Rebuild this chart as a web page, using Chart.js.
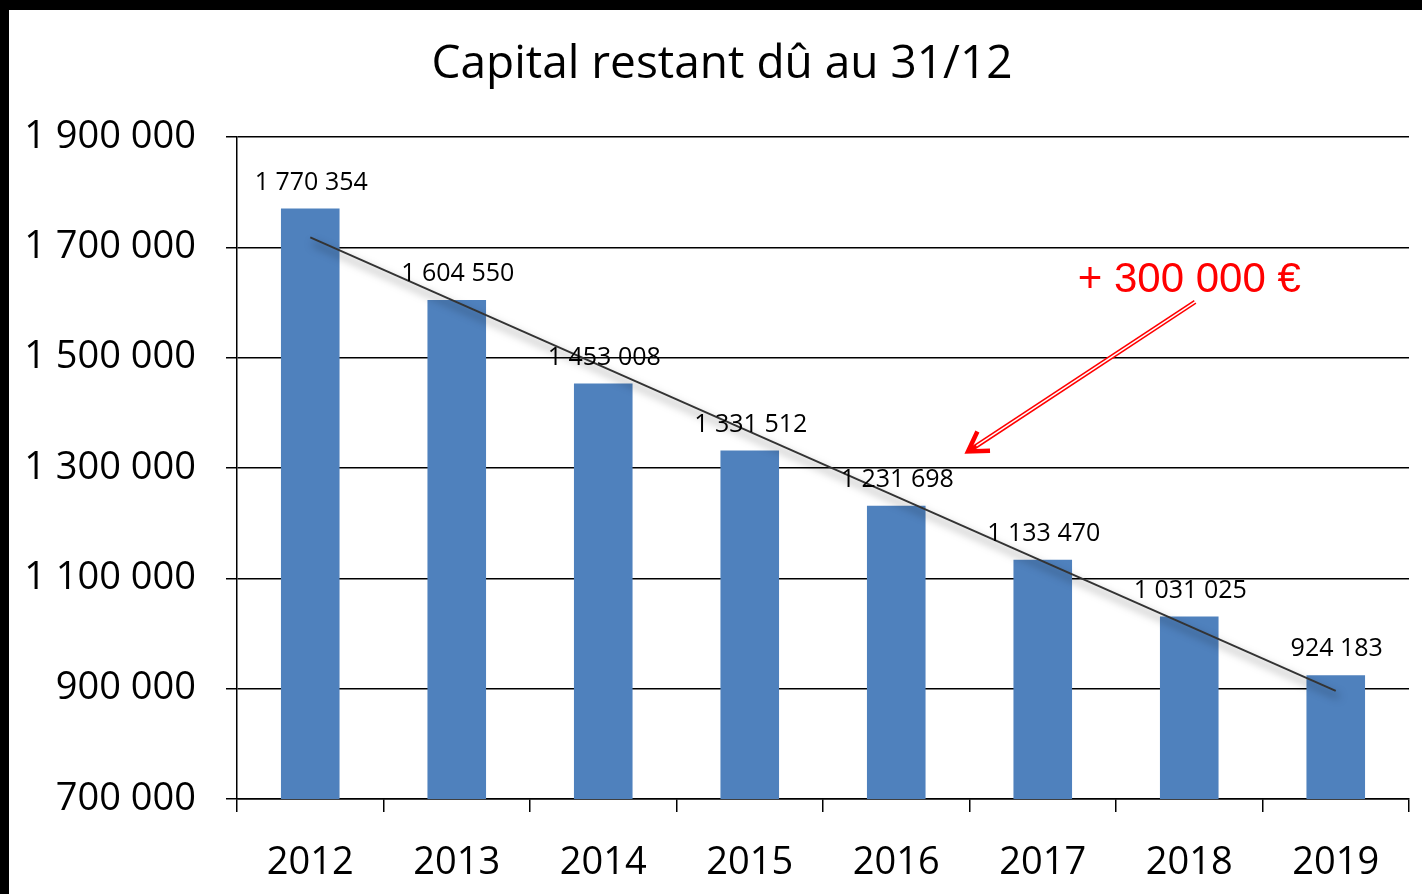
<!DOCTYPE html>
<html lang="fr">
<head>
<meta charset="utf-8">
<title>Capital restant dû au 31/12</title>
<script src="https://cdn.jsdelivr.net/npm/chart.js@4.4.1/dist/chart.umd.min.js"></script>
<style>
  html, body { margin: 0; padding: 0; background: #000; }
  #frame {
    position: absolute;
    left: 9px;
    top: 10px;
    width: 1413px;
    height: 884px;
    background: #fff;
  }
  canvas { display: block; }
</style>
</head>
<body>
<div id="frame">
  <canvas id="chart" width="1413" height="884"></canvas>
</div>
<script>
// Data
const years = ['2012', '2013', '2014', '2015', '2016', '2017', '2018', '2019'];
const capital = [1770354, 1604550, 1453008, 1331512, 1231698, 1133470, 1031025, 924183];
// Linear trend line, end points
const trend = [1718000, null, null, null, null, null, null, 896000];
const yTicks = [700000, 900000, 1100000, 1300000, 1500000, 1700000, 1900000];

const chartTitle = 'Capital restant dû au 31/12';

// Red annotation: text and arrow, in data units (category index, value)
const noteText = '+ 300 000 €';
const notePos = [6.0, 1640000];
const arrowFrom = [6.04, 1601000];
const arrowTo = [4.49, 1330000];

const BAR_COLOR = '#4F81BD';
const FONT = "'Open Sans', 'DejaVu Sans', sans-serif";

// French style thousands: "1 770 354"
function fmt(v) {
  return String(Math.round(v)).replace(/\B(?=(\d{3})+(?!\d))/g, ' ');
}

// Title, drawn by hand so it sits where the original one does
const titlePlugin = {
  id: 'titlePlugin',
  afterDraw(chart) {
    const ctx = chart.ctx;
    ctx.save();
    ctx.font = '46px ' + FONT;
    ctx.fillStyle = '#000';
    ctx.textAlign = 'center';
    ctx.textBaseline = 'middle';
    ctx.fillText(chartTitle, 713, 55);
    ctx.restore();
  }
};

// Soft shadow under the trend line
const trendShadow = {
  id: 'trendShadow',
  beforeDatasetDraw(chart, args) {
    if (args.index !== 1) return;
    const ctx = chart.ctx;
    ctx.save();
    ctx.shadowColor = 'rgba(0, 0, 0, 0.6)';
    ctx.shadowBlur = 9;
    ctx.shadowOffsetX = 3;
    ctx.shadowOffsetY = 6;
  },
  afterDatasetDraw(chart, args) {
    if (args.index !== 1) return;
    chart.ctx.restore();
  }
};

// Value labels above each bar
const barLabels = {
  id: 'barLabels',
  afterDatasetsDraw(chart) {
    const ctx = chart.ctx;
    const meta = chart.getDatasetMeta(0);
    ctx.save();
    ctx.font = '25px ' + FONT;
    ctx.fillStyle = '#000';
    ctx.textAlign = 'center';
    ctx.textBaseline = 'middle';
    meta.data.forEach((bar, i) => {
      ctx.fillText(fmt(capital[i]), bar.x + 1, bar.y - 26);
    });
    ctx.restore();
  }
};

// Red "+ 300 000 €" note with a hollow arrow
const note = {
  id: 'note',
  afterDraw(chart) {
    const ctx = chart.ctx;
    const xs = chart.scales.x;
    const ys = chart.scales.y;
    const px = p => [xs.getPixelForValue(p[0]), ys.getPixelForValue(p[1])];

    const [tx, ty] = px(notePos);
    const [x1, y1] = px(arrowFrom);
    const [x2, y2] = px(arrowTo);

    ctx.save();
    ctx.font = "42px 'Liberation Sans', Arial, sans-serif";
    ctx.fillStyle = '#FF0000';
    ctx.textAlign = 'center';
    ctx.textBaseline = 'middle';
    ctx.fillText(noteText, tx, ty);

    const ang = Math.atan2(y1 - y2, x1 - x2);
    // shaft: red outline with white core
    ctx.lineCap = 'butt';
    ctx.strokeStyle = '#FF0000';
    ctx.lineWidth = 4.5;
    ctx.beginPath();
    ctx.moveTo(x1, y1);
    ctx.lineTo(x2 + Math.cos(ang) * 4, y2 + Math.sin(ang) * 4);
    ctx.stroke();
    ctx.strokeStyle = '#fff';
    ctx.lineWidth = 1.5;
    ctx.beginPath();
    ctx.moveTo(x1 + Math.cos(ang) * 1, y1 + Math.sin(ang) * 1);
    ctx.lineTo(x2 + Math.cos(ang) * 10, y2 + Math.sin(ang) * 10);
    ctx.stroke();

    // head
    const len = 22;
    const spread = 0.55;
    ctx.strokeStyle = '#FF0000';
    ctx.lineWidth = 4.5;
    ctx.lineJoin = 'miter';
    ctx.beginPath();
    ctx.moveTo(x2 + Math.cos(ang - spread) * len, y2 + Math.sin(ang - spread) * len);
    ctx.lineTo(x2, y2);
    ctx.lineTo(x2 + Math.cos(ang + spread) * len, y2 + Math.sin(ang + spread) * len);
    ctx.stroke();
    ctx.restore();
  }
};

const ctx = document.getElementById('chart').getContext('2d');

new Chart(ctx, {
  type: 'bar',
  data: {
    labels: years,
    datasets: [
      {
        label: 'Capital restant dû',
        data: capital,
        backgroundColor: BAR_COLOR,
        barPercentage: 0.4,
        categoryPercentage: 1.0,
        order: 2,
      },
      {
        type: 'line',
        label: 'Tendance',
        data: trend,
        spanGaps: true,
        borderColor: '#333333',
        borderWidth: 2,
        pointRadius: 0,
        fill: false,
        order: 1,
      },
    ],
  },
  options: {
    responsive: false,
    devicePixelRatio: 1,
    animation: false,
    layout: {
      padding: { left: 0, right: 13, top: 127, bottom: 0 },
    },
    plugins: {
      legend: { display: false },
      tooltip: { enabled: false },
      title: { display: false },
    },
    scales: {
      x: {
        offset: true,
        grid: {
          offset: true,
          drawOnChartArea: false,
          drawTicks: true,
          tickLength: 13,
          color: '#000',
          lineWidth: 1.5,
        },
        border: { color: '#000', width: 1.5 },
        ticks: {
          color: '#000',
          font: { family: FONT, size: 38 },
          padding: 28,
          maxRotation: 0,
        },
        afterFit(scale) {
          scale.height = 95;
        },
      },
      y: {
        min: 700000,
        max: 1900000,
        afterBuildTicks(scale) {
          scale.ticks = yTicks.map(v => ({ value: v }));
        },
        grid: {
          color: '#000',
          lineWidth: 1.5,
          drawTicks: true,
          tickLength: 11,
        },
        border: { color: '#000', width: 1.5 },
        ticks: {
          color: '#000',
          font: { family: FONT, size: 38 },
          padding: 30,
          callback: v => fmt(v),
        },
        afterFit(scale) {
          scale.width = 228;
        },
      },
    },
  },
  plugins: [titlePlugin, trendShadow, barLabels, note],
});
</script>
</body>
</html>
